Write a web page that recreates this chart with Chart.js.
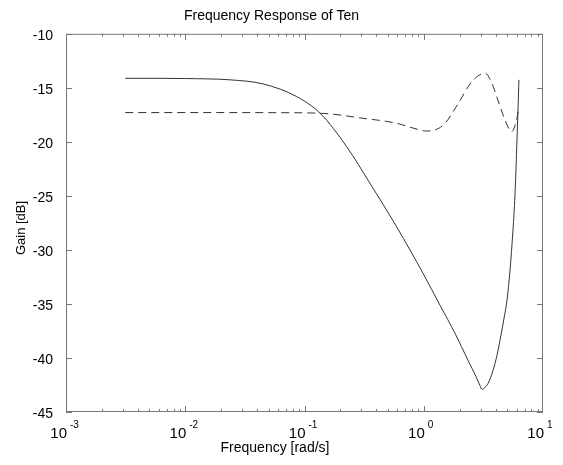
<!DOCTYPE html>
<html>
<head>
<meta charset="utf-8">
<script src="https://cdn.jsdelivr.net/npm/chart.js@4.4.0/dist/chart.umd.min.js"></script>
<style>
  html, body { margin: 0; padding: 0; background: #fff; }
  #wrap { width: 563px; height: 465px; position: relative; }
</style>
</head>
<body>
<div id="wrap"><canvas id="chart"></canvas></div>
<script>
// solid curve (frequency in rad/s, gain in dB)
const freqSolid = [0.00314, 0.006, 0.01, 0.0237, 0.045, 0.086, 0.135, 0.226, 0.354, 0.593, 0.99, 1.37, 1.83, 2.35, 2.74, 2.96, 3.08, 3.26, 3.46, 3.81, 4.11, 4.44, 4.71, 4.99, 5.29, 5.6, 5.82, 6.05, 6.17, 6.28];
const gainSolid = [-14.12, -14.12, -14.14, -14.26, -14.64, -15.81, -17.35, -20.45, -23.84, -27.87, -32.2, -35.13, -37.72, -40.22, -41.71, -42.54, -42.91, -42.73, -42.36, -41.15, -39.76, -37.91, -36.33, -34.66, -31.88, -28.17, -24.93, -19.83, -17.05, -14.26];

// dashed curve
const freqDashed = [0.00314, 0.01, 0.0237, 0.06, 0.135, 0.311, 0.593, 0.8, 1.06, 1.46, 1.95, 2.5, 3.27, 3.7, 4.09, 4.8, 5.46, 6.0, 6.28];
const gainDashed = [-17.29, -17.29, -17.29, -17.3, -17.35, -17.82, -18.28, -18.7, -19.0, -18.44, -16.43, -14.5, -13.65, -14.5, -15.81, -17.97, -19.06, -17.97, -16.8];

const xTickExps = [-3, -2, -1, 0, 1];
const yTicks = [-45, -40, -35, -30, -25, -20, -15, -10];

const FONT = "'Liberation Sans', Arial, Helvetica, sans-serif";

const framePlugin = {
  id: 'frame',
  afterDraw(chart) {
    const { ctx, chartArea: a, scales } = chart;
    const xs = scales.x, ys = scales.y;
    ctx.save();
    ctx.strokeStyle = '#777';
    ctx.lineWidth = 1;
    ctx.strokeRect(a.left + 0.5, a.top + 0.5, a.right - a.left - 1, a.bottom - a.top - 1);
    ctx.beginPath();
    // log ticks top and bottom
    for (let e = xTickExps[0]; e < xTickExps[xTickExps.length - 1]; e++) {
      for (let m = 1; m < 10; m++) {
        const px = Math.round(xs.getPixelForValue(m * Math.pow(10, e))) + 0.5;
        const len = m === 1 ? 6 : 3;
        ctx.moveTo(px, a.bottom); ctx.lineTo(px, a.bottom - len);
        ctx.moveTo(px, a.top); ctx.lineTo(px, a.top + len);
      }
    }
    // linear ticks left and right
    yTicks.forEach(v => {
      const py = Math.round(ys.getPixelForValue(v)) + 0.5;
      ctx.moveTo(a.left, py); ctx.lineTo(a.left + 6, py);
      ctx.moveTo(a.right, py); ctx.lineTo(a.right - 6, py);
    });
    ctx.stroke();

    // x tick labels with superscript exponents
    ctx.fillStyle = '#000';
    ctx.textBaseline = 'alphabetic';
    xTickExps.forEach(e => {
      const px = xs.getPixelForValue(Math.pow(10, e));
      ctx.font = '15px ' + FONT;
      ctx.textAlign = 'right';
      ctx.fillText('10', px + 1, a.bottom + 26);
      ctx.font = '10px ' + FONT;
      ctx.textAlign = 'left';
      ctx.fillText(String(e), px + 4, a.bottom + 16);
    });

    // axis titles
    ctx.font = '14px ' + FONT;
    ctx.textAlign = 'center';
    ctx.fillText('Frequency [rad/s]', 275, a.bottom + 40);
    ctx.translate(21, 228);
    ctx.rotate(-Math.PI / 2);
    ctx.textBaseline = 'middle';
    ctx.font = '13px ' + FONT;
    ctx.fillText('Gain [dB]', 0, 0);
    ctx.restore();
  }
};

new Chart(document.getElementById('chart'), {
  type: 'line',
  data: {
    datasets: [
      {
        data: freqSolid.map((f, i) => ({ x: f, y: gainSolid[i] })),
        borderColor: '#333',
        borderWidth: 1,
        pointRadius: 0,
        cubicInterpolationMode: 'monotone',
      },
      {
        data: freqDashed.map((f, i) => ({ x: f, y: gainDashed[i] })),
        borderColor: '#333',
        borderWidth: 1,
        borderDash: [8, 5],
        pointRadius: 0,
        cubicInterpolationMode: 'monotone',
      },
    ],
  },
  options: {
    responsive: true,
    maintainAspectRatio: false,
    animation: false,
    layout: { padding: { left: 0, right: 20, top: 0, bottom: 53 } },
    plugins: {
      legend: { display: false },
      tooltip: { enabled: false },
      title: {
        display: true,
        text: 'Frequency Response of Ten',
        color: '#000',
        font: { family: FONT, size: 14, weight: 'normal' },
        padding: { top: 8, bottom: 9 },
      },
    },
    scales: {
      x: {
        type: 'logarithmic',
        min: 1e-3,
        max: 10,
        grid: { display: false },
        border: { display: false },
        ticks: { display: false },
        afterFit: s => { s.height = 0; },
      },
      y: {
        min: -45,
        max: -10,
        grid: { display: false, drawTicks: false },
        border: { display: false },
        ticks: {
          stepSize: 5,
          padding: 13,
          labelOffset: 2,
          color: '#000',
          font: { family: FONT, size: 14 },
        },
        afterFit: s => { s.width = 66; },
      },
    },
  },
  plugins: [framePlugin],
});
</script>
</body>
</html>
